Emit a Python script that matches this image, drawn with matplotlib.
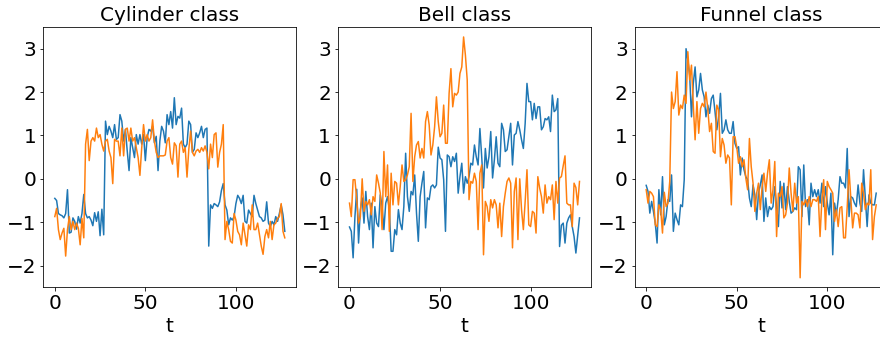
import numpy as np
import matplotlib
matplotlib.use("Agg")
import matplotlib.pyplot as plt

# ─────────────────────────────────────────────
#  Data (one sample per time step)
# ─────────────────────────────────────────────
cyl_a = [-0.45, -0.5, -0.8, -0.83, -0.85, -0.9, -0.8, -0.25, -1.25, -1.23,
         -0.9, -0.98, -1.16, -0.87, -1.02, -0.8, -0.36, -0.8, -0.9, -0.87,
         -0.95, -1.08, -0.78, -0.98, -0.76, -1.31, -0.7, -1.29, 1.33, 1.02,
         1.21, 1.1, 0.95, 1.25, 0.91, 0.95, 1.48, 1.33, 0.87, 1.14,
         0.64, 0.19, 0.95, 0.72, 0.49, 1.02, 0.8, 1.02, 0.8, 1.02,
         0.42, 0.95, 1.14, 1.1, 1.21, 0.83, 0.98, 0.19, 0.87, 1.21,
         1.1, 0.83, 1.48, 1.25, 1.55, 1.17, 1.87, 1.25, 1.44, 1.4,
         1.63, 0.8, 0.72, 0.8, 1.33, 1.25, 0.61, 0.68, 1.06, 0.95,
         1.06, 1.21, 0.95, 1.14, 1.17,
         -1.55, -0.6, -0.68, -0.57, -0.6, -0.64, -0.53, -0.27, -0.11, -0.6,
         -0.72, -1.06, -0.9, -0.95, -0.87, -0.57, -0.38, -0.45, -0.57, -0.38,
         -0.98, -1.02, -0.72, -0.8, -0.87, -0.38, -0.57, -0.72, -0.87, -0.9,
         -0.98, -0.95, -0.53, -1.02, -1.1, -0.98, -1.06, -0.87, -0.98, -0.8,
         -0.6, -0.83, -1.21]
cyl_b = [-0.87, -0.68, -1.17, -1.4, -1.25, -1.14, -1.78, -1.17, -0.87, -1.17,
         -0.98, -1.17, -1.02, -1.14, -1.52, -0.91, -1.36, 0.8, 1.14, 0.42,
         0.87, 0.95, 0.87, 1.17, 0.95, 1.02, 0.8, 0.64, 0.87, 0.91,
         0.64, 0.49, -0.11, 0.91, 0.87, 0.87, 0.53, 1.17, 0.53, 1.14,
         1.17, 0.87, 1.17, 0.87, 0.95, 0.72, 0.49, 0.08, 0.72, 1.25,
         0.87, 1.02, 0.87, 0.95, 1.36, 0.87, 0.61, 0.49, 0.53,
         0.53, 0.53, 0.55, 0.87, 0.95, 0.49, 0.34, 0.83, 0.76, 0.04,
         0.8, 0.87, 0.61, 0.72, 0.04, 0.68, 1.1, 0.61, 0.53, 0.64,
         0.68, 0.61, 0.72, 0.64, 0.76, 0.61, 0.23, 0.8, 0.49, 1.02,
         1.06, 0.27, 0.61, 0.8, 1.25,
         -1.4, -0.98, -1.17, -1.44, -1.48, -0.8, -0.95, -1.21, -1.29, -1.52,
         -1.02, -1.29, -1.55, -1.06, -1.17, -0.6, -1.17, -1.17, -1.02, -1.29,
         -1.55, -1.74, -1.33, -1.17, -1.36, -0.98, -1.4, -1.06, -1.02, -0.91,
         -0.87, -0.57, -1.21, -1.36]

bell_a = [-1.11, -1.21, -1.82, -0.87, -0.24, -1.48, -0.71, -0.44, -1.02, -0.29,
          -0.87, -1.17, -0.56, -1.59, -0.64, -1.02, -1.1, -0.37, -0.64, -1.17,
          -0.56, -0.41, -0.71, -1.67, -1.67, -1.17, -1.29, -0.71, -1.02, -1.17,
          -0.64, 0.59, -0.41, -0.75, -0.29, -0.37, 0.09, -0.79, -1.44, -0.41,
          -0.1, 0.17, -1.13, -0.44, -0.48, -0.18, -0.14, -0.21, -0.14, 0.73,
          0.48, 0.44, -0.02, -1.21, 0.55, 0.51, 0.28, 0.51, 0.4, 0.59,
          -0.33, 0.05, 0.36, -0.33, 0.05, -0.1, 0.05, 0.36, 0.32, 0.78,
          0.51, 0.32, 1.16, 0.51, -0.21, 0.7, 0.25, 0.51, 1.09, 0.02,
          0.44, 0.97, 0.36, 0.28, 1.28, 1.13, 0.63, 0.67, 0.97, 1.28,
          0.32, 1.01, 1.05, 1.32, 1.13, 0.9, 0.7, 1.28, 2.2, 1.78,
          1.78, 1.36, 1.74, 1.39, 1.66, 1.66, 1.13, 1.2, 1.39, 1.36,
          1.43, 1.09, 1.93, 1.55, 1.59, 1.85, -1.56, -1.07, -1.02, -1.48,
          -1.02, -0.9, -0.83, -1.1, -1.33, -1.71, -1.3, -0.9]
bell_b = [-0.56, -0.87, -0.02, -0.02, -0.48, -1.02, -0.87, 0.0, -0.75, -0.52,
          -0.6, -0.48, -0.83, -0.41, -0.52, 0.09, -0.1, -0.33, -1.17, 0.63,
          -0.41, 0.32, -1.21, 0.13, -0.6, -0.06, -0.1, -0.6, -0.18, 0.32,
          -0.06, -0.02, 0.09, 0.28, 1.51, -0.06, 0.51, 0.78, 0.86, 0.48,
          0.7, 0.48, 1.32, 1.55, 1.24, 0.55, 0.78, 1.2, 1.89, 1.32,
          0.97, 1.05, 1.7, 0.82, 0.82, 1.97, 2.54, 1.66, 1.97, 1.93,
          2.0, 2.43, 2.58, 3.27, 2.85, 2.28, -0.48, -0.06, -0.1, 0.13,
          -0.06, -1.17, 0.13, 0.32, -1.75, -0.52, -0.64, -0.98, -0.48, -0.67,
          -0.48, -0.6, -1.13, -0.56, -1.33, -0.64, -0.33, -0.06, 0.02, -0.1,
          -1.59, -0.29, 0.02, -1.4, 0.0, -0.71, -1.17, -0.52, 0.21, -1.06,
          -1.1, -0.75, -0.79, -1.25, 0.05, -0.21, -0.41, -0.79, -0.14, -0.56,
          -0.41, -0.48, -0.14, -0.94, -0.06, -0.56, 0.02, 0.05, 0.3, 0.53,
          -0.56, -0.6, -0.6, -1.1, -0.1, -0.2, -0.6, -0.06]

fun_a = [-0.15, -0.29, -0.79, -0.52, -0.75, -1.02, -1.48, -0.25, -0.83, 0.05,
         -1.06, -0.87, -0.48, -0.52, 0.09, -1.21, -0.79, -0.94, -1.06, -0.6,
         -0.64, -0.02, 3.0, 2.74, 2.39, 1.43, 2.2, 2.58, 1.89, 2.05,
         2.43, 2.05, 1.89, 1.43, 1.7, 1.51, 1.85, 1.93, 1.55, 1.13,
         1.43, 1.97, 1.05, 1.13, 1.36, 1.13, 1.05, 1.05, 1.32, 0.82,
         0.7, 0.74, 0.09, 0.48, 0.21, 0.05, -0.02, -0.44, -0.64, -0.14,
         -0.37, -0.94, -0.33, -0.14, 0.09,
         -0.98, -0.44, -0.87, -0.64, -0.71, -0.64, -0.18, -0.64, -1.1, -0.06,
         -0.67, -0.1, -0.71, -0.18, -0.52, -0.79, -0.75, -0.67, -0.71, 0.28,
         0.21, -0.87, 0.32, -0.64, -0.48, -1.06, -0.1, -0.41, -0.25, -0.41,
         -0.25, -0.56, -0.1, -0.64, -0.18, -0.56, -0.83, -0.33, -1.75, -0.56,
         -0.83, -0.48, 0.05, -0.1, -0.1, -0.21, 0.7, -0.87, -0.41, -0.44,
         -0.56, -0.64, -0.14, -0.56, -0.75, 0.21, -0.44, -1.1, -0.37, -0.56,
         -0.6, -0.6, -0.33]
fun_b = [-0.25, -0.56, -0.29, -0.33, -0.41, -1.06, -1.1, -0.6, -0.71, -1.25,
         -0.31, -0.64, -0.56, -0.06, 2.0, 1.62, 1.78, 2.47, 1.47, 1.7,
         1.62, 1.93, 1.74, 2.93, 2.28, 2.62, 1.7, 0.9, 1.78, 1.05,
         1.62, 1.74, 1.66, 2.0, 1.62, 1.09, 1.28, 0.63, 0.59, 1.7,
         1.59, 0.51, 0.93, 0.78, 0.36, 0.55, 0.48, -0.6, 0.97, 0.97,
         0.74, 0.36, 0.51, 0.28, 0.44, 0.02, -0.25, 0.93, 0.28, -0.1,
         -0.75, -0.33, -0.1, -0.71, -0.18,
         0.13, -0.29, 0.13, 0.44, -0.56, -0.25, 0.4, -1.33, -0.33, -0.41,
         -0.18, -0.9, -0.83, -0.56, 0.25, -0.33, -0.75, -0.1, -0.56, -0.41,
         -2.28, -0.52, -0.6, -0.48, -0.64, -0.41, -0.64, -0.48, -0.48, -0.52,
         -0.41, -1.33, -0.48, -0.02, -1.17, -0.06, -0.18, -0.25, -0.33, -0.98,
         -0.71, -1.1, -0.67, -0.64, -1.36, -1.36, -0.64, 0.21, -0.48, -1.13,
         -0.79, -0.79, -0.83, -1.13, -0.1, -0.33, -0.71, -0.56, -0.6, 0.21,
         -1.4, -0.87, -0.6]

titles = ["Cylinder class", "Bell class", "Funnel class"]
series = [(cyl_a, cyl_b), (bell_a, bell_b), (fun_a, fun_b)]

# ─────────────────────────────────────────────
#  Figure: reference looks like a 72-dpi render, so scale
#  font sizes / paddings / widths by 0.72 for a 100-dpi canvas
# ─────────────────────────────────────────────
W, H = 880, 337
K = 0.72
FS = 20 * K

fig = plt.figure(figsize=(W / 100, H / 100), dpi=100)

lefts = [43.3, 338.0, 634.7]
for l, title, (a, b) in zip(lefts, titles, series):
    ax = fig.add_axes([l / W, 49.7 / H, 253 / W, 260.3 / H])
    ax.plot(np.arange(len(a)), a, color="#1f77b4", lw=1.5 * K)
    ax.plot(np.arange(len(b)), b, color="#ff7f0e", lw=1.5 * K)
    ax.set_ylim(-2.5, 3.5)
    ax.set_xticks([0, 50, 100])
    ax.set_yticks([-2, -1, 0, 1, 2, 3])
    ax.tick_params(labelsize=FS, length=3.5 * K, width=0.8 * K, pad=3.5 * K)
    for sp in ax.spines.values():
        sp.set_linewidth(0.8 * K)
    ax.set_title(title, fontsize=FS, pad=6 * K)
    ax.set_xlabel("t", fontsize=FS, labelpad=4 * K)

fig.savefig("out.png", dpi=100)
plt.close(fig)
